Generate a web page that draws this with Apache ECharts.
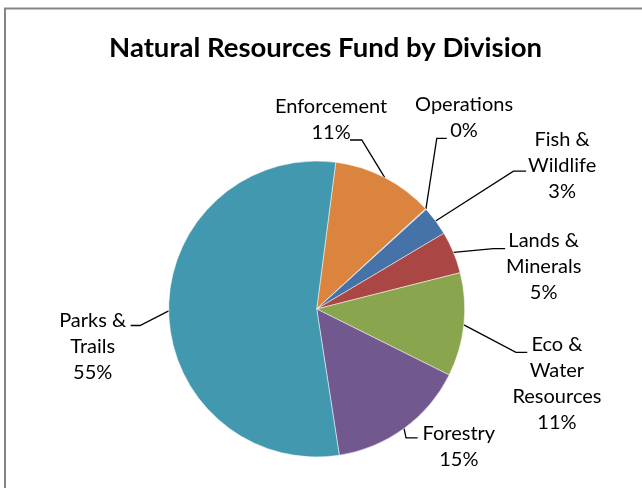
<!DOCTYPE html>
<html>
<head>
<meta charset="utf-8">
<script src="https://cdn.jsdelivr.net/npm/echarts@6/dist/echarts.min.js"></script>
<style>
  html, body { margin: 0; padding: 0; background: #fff; }
  #chart { width: 642px; height: 488px; }
</style>
</head>
<body>
<div id="chart"></div>
<script>
// Division names (line breaks as they wrap in the labels) and their share of the fund, in %
const divisions = ['Enforcement', 'Operations', 'Fish &\nWildlife', 'Lands &\nMinerals', 'Eco &\nWater\nResources', 'Forestry', 'Parks &\nTrails'];
const shares = [11.1, 0.1, 3.2, 4.6, 11.3, 15.2, 54.5];
const sliceColors = ['#DB843D', '#93A9CF', '#4572A7', '#AA4643', '#89A54E', '#71588F', '#4198AF'];

// Leader line shape per label, relative to the slice's edge point:
// bend = elbow offset, run = horizontal segment, text = label box (centre x, top y) from the segment end
const leaderLayout = [
  { bend: [-23, -37.6], run: -11.7, text: [-19, -46] },
  { bend: [10.9, -70.7], run: 10, text: [17.3, -47.3] },
  { bend: [77.8, -49.7], run: 12.7, text: [36, -45] },
  { bend: [40, -3.7], run: 11.7, text: [38.5, -21.3] },
  { bend: [52.1, 27.5], run: 11.3, text: [29.7, -20.7] },
  { bend: [2, 9.3], run: 11.6, text: [41.2, -17.3] },
  { bend: [-28.7, 14.7], run: -9.3, text: [-38, -18] }
];

const FONT = 'Lato, "Noto Sans", sans-serif';

const chart = echarts.init(document.getElementById('chart'), null, { renderer: 'canvas' });

chart.setOption({
  animation: false,
  backgroundColor: '#fff',
  graphic: [{
    type: 'rect',
    silent: true,
    shape: { x: 5, y: 8.5, width: 700, height: 600 },
    style: { fill: 'none', stroke: '#858585', lineWidth: 2 }
  }],
  title: {
    text: 'Natural Resources Fund by Division',
    left: 320.5,
    top: 29,
    textAlign: 'center',
    textStyle: { fontFamily: FONT, fontWeight: 'bold', fontSize: 27.5, color: '#000' }
  },
  series: [{
    type: 'pie',
    center: [316.7, 309],
    radius: 148,
    startAngle: 82.6,
    clockwise: true,
    avoidLabelOverlap: false,
    percentPrecision: 0,
    emphasis: { disabled: true },
    itemStyle: { borderColor: '#fff', borderWidth: 0.5 },
    label: {
      show: true,
      position: 'outside',
      formatter: '{b}\n{d}%',
      fontFamily: FONT,
      fontSize: 20,
      lineHeight: 26,
      color: '#000'
    },
    labelLine: {
      show: true,
      length: 20,
      length2: 10,
      lineStyle: { color: '#000', width: 1.3 }
    },
    labelLayout: function (p) {
      const L = leaderLayout[p.dataIndex];
      const p0 = p.labelLinePoints[0];
      const p1 = [p0[0] + L.bend[0], p0[1] + L.bend[1]];
      const p2 = [p1[0] + L.run, p1[1]];
      return {
        x: p2[0] + L.text[0],
        y: p2[1] + L.text[1],
        align: 'center',
        verticalAlign: 'top',
        labelLinePoints: [p0, p1, p2]
      };
    },
    data: divisions.map((name, i) => ({
      name: name,
      value: shares[i],
      itemStyle: { color: sliceColors[i] }
    }))
  }]
});
</script>
</body>
</html>
